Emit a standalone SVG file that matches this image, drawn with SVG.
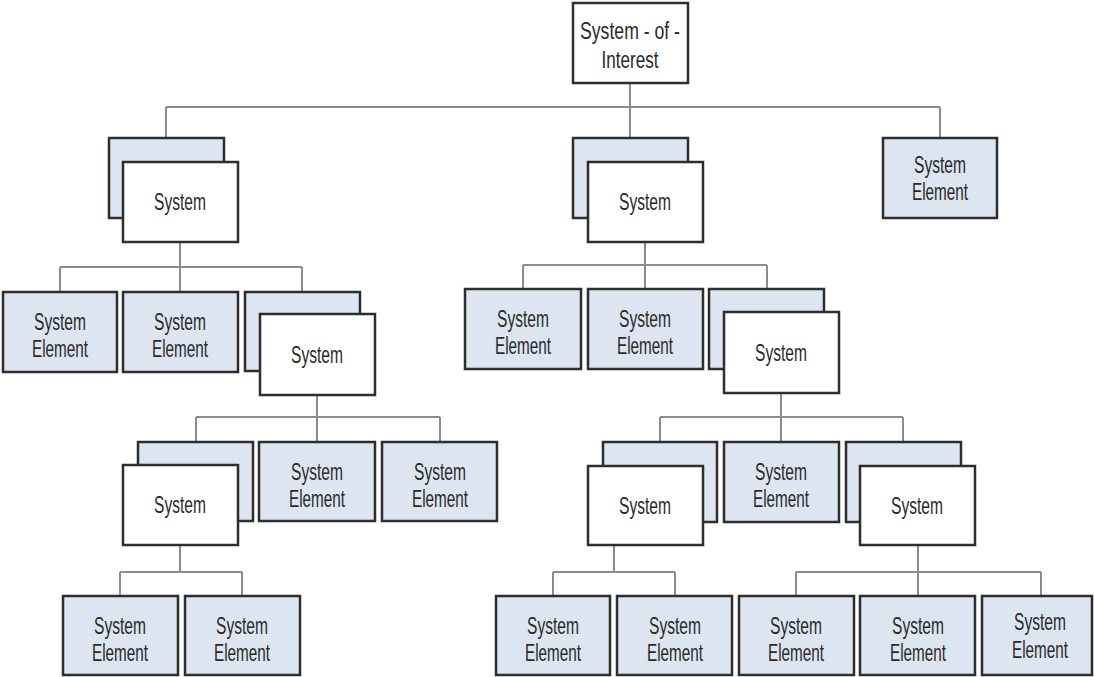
<svg xmlns="http://www.w3.org/2000/svg" width="1094" height="677" viewBox="0 0 1094 677">
<style>
.el{fill:#dce5f0;stroke:#2e2e2e;stroke-width:2.5}
.sys{fill:#ffffff;stroke:#2e2e2e;stroke-width:2.5}
.bk{fill:#dce5f0;stroke:#2e2e2e;stroke-width:2.5}
.c{fill:none;stroke:#8c8c8c;stroke-width:2}
text{font-family:"Liberation Sans",Arial,sans-serif;font-size:23px;fill:#2a2a2a;text-anchor:middle}
</style>
<rect width="1094" height="677" fill="#ffffff"/>
<g id="connectors">
<path class="c" d="M630 83V138M166 107H940M166 107V138M940 107V138"/>
<path class="c" d="M180 242V267M60 267H302M60 267V292M180 267V292M302 267V292"/>
<path class="c" d="M645 242V265M523 265H767M523 265V289M645 265V289M767 265V289"/>
<path class="c" d="M317 395V417M196 417H440M196 417V442M317 417V442M440 417V442"/>
<path class="c" d="M781 393V417M660 417H903M660 417V442M781 417V442M903 417V442"/>
<path class="c" d="M180 545V572M120 572H242M120 572V596M242 572V596"/>
<path class="c" d="M614 546V572M553 572H675M553 572V596M675 572V596"/>
<path class="c" d="M918 546V572M796 572H1041M796 572V596M918 572V596M1041 572V596"/>
</g>
<g id="soi"><rect class="sys" x="573" y="3" width="115" height="80"/><text x="630" y="39" textLength="100" lengthAdjust="spacingAndGlyphs">System - of -</text><text x="630" y="68" textLength="57" lengthAdjust="spacingAndGlyphs">Interest</text></g>
<g id="sysL1"><rect class="bk" x="109" y="138" width="115" height="80"/><rect class="sys" x="123" y="162" width="115" height="80"/><text x="180" y="210" textLength="52" lengthAdjust="spacingAndGlyphs">System</text></g>
<g id="sysM1"><rect class="bk" x="573" y="138" width="115" height="80"/><rect class="sys" x="588" y="162" width="115" height="80"/><text x="645" y="210" textLength="52" lengthAdjust="spacingAndGlyphs">System</text></g>
<g id="elR1"><rect class="el" x="883" y="138" width="114" height="80"/><text x="940" y="173" textLength="52" lengthAdjust="spacingAndGlyphs">System</text><text x="940" y="200" textLength="56" lengthAdjust="spacingAndGlyphs">Element</text></g>
<g id="elL2a"><rect class="el" x="3" y="292" width="114" height="80"/><text x="60" y="330" textLength="52" lengthAdjust="spacingAndGlyphs">System</text><text x="60" y="357" textLength="56" lengthAdjust="spacingAndGlyphs">Element</text></g>
<g id="elL2b"><rect class="el" x="123" y="292" width="115" height="80"/><text x="180" y="330" textLength="52" lengthAdjust="spacingAndGlyphs">System</text><text x="180" y="357" textLength="56" lengthAdjust="spacingAndGlyphs">Element</text></g>
<g id="sysL2"><rect class="bk" x="245" y="292" width="115" height="79"/><rect class="sys" x="260" y="314" width="115" height="81"/><text x="317" y="363" textLength="52" lengthAdjust="spacingAndGlyphs">System</text></g>
<g id="elM2a"><rect class="el" x="465" y="289" width="116" height="80"/><text x="523" y="327" textLength="52" lengthAdjust="spacingAndGlyphs">System</text><text x="523" y="354" textLength="56" lengthAdjust="spacingAndGlyphs">Element</text></g>
<g id="elM2b"><rect class="el" x="588" y="289" width="115" height="80"/><text x="645" y="327" textLength="52" lengthAdjust="spacingAndGlyphs">System</text><text x="645" y="354" textLength="56" lengthAdjust="spacingAndGlyphs">Element</text></g>
<g id="sysM2"><rect class="bk" x="709" y="289" width="115" height="80"/><rect class="sys" x="724" y="312" width="115" height="81"/><text x="781" y="361" textLength="52" lengthAdjust="spacingAndGlyphs">System</text></g>
<g id="sysL3"><rect class="bk" x="138" y="442" width="115" height="79"/><rect class="sys" x="123" y="465" width="115" height="80"/><text x="180" y="513" textLength="52" lengthAdjust="spacingAndGlyphs">System</text></g>
<g id="elL3a"><rect class="el" x="259" y="442" width="116" height="79"/><text x="317" y="480" textLength="52" lengthAdjust="spacingAndGlyphs">System</text><text x="317" y="507" textLength="56" lengthAdjust="spacingAndGlyphs">Element</text></g>
<g id="elL3b"><rect class="el" x="382" y="442" width="115" height="79"/><text x="440" y="480" textLength="52" lengthAdjust="spacingAndGlyphs">System</text><text x="440" y="507" textLength="56" lengthAdjust="spacingAndGlyphs">Element</text></g>
<g id="sysR3a"><rect class="bk" x="603" y="442" width="114" height="80"/><rect class="sys" x="588" y="466" width="115" height="79"/><text x="645" y="514" textLength="52" lengthAdjust="spacingAndGlyphs">System</text></g>
<g id="elR3"><rect class="el" x="724" y="442" width="115" height="80"/><text x="781" y="480" textLength="52" lengthAdjust="spacingAndGlyphs">System</text><text x="781" y="507" textLength="56" lengthAdjust="spacingAndGlyphs">Element</text></g>
<g id="sysR3b"><rect class="bk" x="846" y="442" width="115" height="80"/><rect class="sys" x="860" y="466" width="115" height="79"/><text x="917" y="514" textLength="52" lengthAdjust="spacingAndGlyphs">System</text></g>
<g id="elL4a"><rect class="el" x="63" y="596" width="115" height="79"/><text x="120" y="634" textLength="52" lengthAdjust="spacingAndGlyphs">System</text><text x="120" y="661" textLength="56" lengthAdjust="spacingAndGlyphs">Element</text></g>
<g id="elL4b"><rect class="el" x="185" y="596" width="115" height="79"/><text x="242" y="634" textLength="52" lengthAdjust="spacingAndGlyphs">System</text><text x="242" y="661" textLength="56" lengthAdjust="spacingAndGlyphs">Element</text></g>
<g id="elR4a"><rect class="el" x="496" y="596" width="114" height="79"/><text x="553" y="634" textLength="52" lengthAdjust="spacingAndGlyphs">System</text><text x="553" y="661" textLength="56" lengthAdjust="spacingAndGlyphs">Element</text></g>
<g id="elR4b"><rect class="el" x="617" y="596" width="115" height="79"/><text x="675" y="634" textLength="52" lengthAdjust="spacingAndGlyphs">System</text><text x="675" y="661" textLength="56" lengthAdjust="spacingAndGlyphs">Element</text></g>
<g id="elR4c"><rect class="el" x="739" y="596" width="115" height="79"/><text x="796" y="634" textLength="52" lengthAdjust="spacingAndGlyphs">System</text><text x="796" y="661" textLength="56" lengthAdjust="spacingAndGlyphs">Element</text></g>
<g id="elR4d"><rect class="el" x="860" y="596" width="115" height="79"/><text x="918" y="634" textLength="52" lengthAdjust="spacingAndGlyphs">System</text><text x="918" y="661" textLength="56" lengthAdjust="spacingAndGlyphs">Element</text></g>
<g id="elR4e"><rect class="el" x="982" y="596" width="110" height="79"/><text x="1040" y="630" textLength="52" lengthAdjust="spacingAndGlyphs">System</text><text x="1040" y="658" textLength="56" lengthAdjust="spacingAndGlyphs">Element</text></g>
</svg>
